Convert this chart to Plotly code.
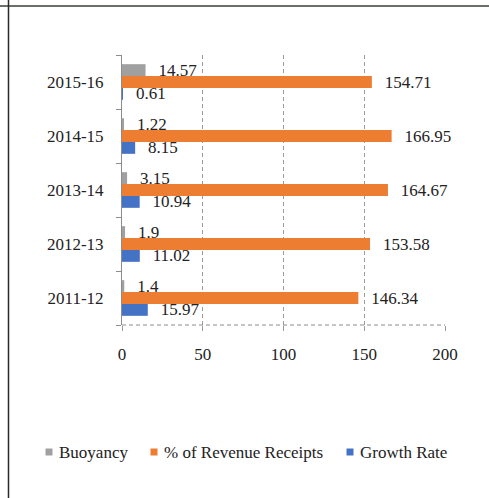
import plotly.graph_objects as go

# Fiscal years, listed bottom-to-top
years = ["2011-12", "2012-13", "2013-14", "2014-15", "2015-16"]
buoyancy = [1.4, 1.9, 3.15, 1.22, 14.57]
revenue_share = [146.34, 153.58, 164.67, 166.95, 154.71]
growth_rate = [15.97, 11.02, 10.94, 8.15, 0.61]

series_names = ["Buoyancy", "% of Revenue Receipts", "Growth Rate"]
colors = {"Buoyancy": "#A0A0A0", "% of Revenue Receipts": "#ED7D31", "Growth Rate": "#4472C4"}

W, H = 489, 498
L, R, T, B = 122, 44, 55, 173
PW, PH = W - L - R, H - T - B

FONT = "Liberation Serif, Times New Roman, serif"
PAD = "\u00a0\u00a0\u200a"
DASH = "4px,3px"


def px_x(v):
    return (v - L) / PW


def px_y(v):
    return (H - B - v) / PH


fig = go.Figure()
# Plotly stacks grouped horizontal bars bottom-up in trace order
for name, vals in [("Growth Rate", growth_rate),
                   ("% of Revenue Receipts", revenue_share),
                   ("Buoyancy", buoyancy)]:
    fig.add_trace(go.Bar(
        y=years, x=vals, name=name, orientation="h",
        marker=dict(color=colors[name], line=dict(width=0)),
        text=[f"{PAD}{v}" for v in vals],
        textposition="outside", constraintext="none", cliponaxis=False,
        textfont=dict(family=FONT, size=17, color="#222222"),
        showlegend=False,
    ))

shapes = [
    # dashed bottom axis line
    dict(type="line", xref="x", yref="paper", x0=0, x1=200, y0=0, y1=0,
         line=dict(color="#8c8c8c", width=1, dash=DASH)),
    # frame lines of the surrounding cell
    dict(type="line", xref="paper", yref="paper", x0=px_x(0), x1=px_x(W),
         y0=px_y(6), y1=px_y(6), line=dict(color="#3a3f38", width=1.5)),
    dict(type="line", xref="paper", yref="paper", x0=px_x(8.5), x1=px_x(8.5),
         y0=px_y(0), y1=px_y(H), line=dict(color="#2a2a2a", width=1.5)),
]

annotations = []
legend_items = [("Buoyancy", 49, 57), ("% of Revenue Receipts", 154, 162), ("Growth Rate", 350, 358)]
for name, sq_cx, tx in legend_items:
    shapes.append(dict(type="rect", xref="paper", yref="paper",
                       x0=px_x(sq_cx - 3.5), x1=px_x(sq_cx + 3.5),
                       y0=px_y(452 + 3.5), y1=px_y(452 - 3.5),
                       fillcolor=colors[name], line=dict(width=0)))
    annotations.append(dict(xref="paper", yref="paper", x=px_x(tx), y=px_y(452),
                            xanchor="left", yanchor="middle", showarrow=False,
                            text=name, font=dict(family=FONT, size=17, color="#222222")))

fig.update_layout(
    width=W, height=H,
    margin=dict(l=L, r=R, t=T, b=B, pad=0),
    paper_bgcolor="white", plot_bgcolor="white",
    barmode="group", bargap=0.34, bargroupgap=0,
    shapes=shapes, annotations=annotations,
    showlegend=False,
    xaxis=dict(range=[0, 200], dtick=50, tick0=0,
               showgrid=True, gridcolor="#9a9a9a", griddash=DASH, gridwidth=1,
               zeroline=False, showline=False,
               ticks="outside", ticklen=5, tickcolor="#9a9a9a",
               ticklabelstandoff=9,
               tickfont=dict(family=FONT, size=17, color="#222222"),
               fixedrange=True),
    yaxis=dict(type="category", categoryorder="array", categoryarray=years,
               showline=True, linecolor="#8c8c8c", linewidth=1,
               ticks="outside", tickson="boundaries", ticklen=5, tickcolor="#8c8c8c",
               ticklabelstandoff=14, showgrid=False, zeroline=False,
               tickfont=dict(family=FONT, size=17, color="#222222"),
               fixedrange=True),
)

fig.write_html("out.html")
